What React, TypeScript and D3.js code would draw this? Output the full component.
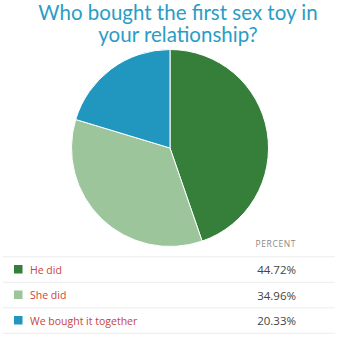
import { useEffect, useRef } from 'react'
import * as d3 from 'd3'

const title = ['Who bought the first sex toy in', 'your relationship?']
const labels = ['He did', 'She did', 'We bought it together']
const values = [44.72, 34.96, 20.33]
const colors = ['#357f3a', '#9cc59b', '#2196bf']

export default function App() {
  const ref = useRef<SVGSVGElement>(null)

  useEffect(() => {
    const width = 340
    const height = 340
    const svg = d3.select(ref.current)
    svg.selectAll('*').remove()
    svg.attr('width', width).attr('height', height)

    // title
    svg.append('g')
      .selectAll('text')
      .data(title)
      .join('text')
      .attr('x', 178)
      .attr('y', (d, i) => 19.5 + i * 22)
      .attr('text-anchor', 'middle')
      .attr('font-family', 'Lato, sans-serif')
      .attr('font-size', 20.5)
      .attr('fill', '#2b9cc4')
      .text(d => d)

    // pie
    const r = 98.5
    const pie = d3.pie<number>().sort(null).value(d => d)
    const arc = d3.arc<d3.PieArcDatum<number>>().innerRadius(0).outerRadius(r)
    svg.append('g')
      .attr('transform', 'translate(170,148)')
      .selectAll('path')
      .data(pie(values))
      .join('path')
      .attr('d', arc)
      .attr('fill', (d, i) => colors[i])
      .attr('stroke', '#fff')
      .attr('stroke-width', 1)

    // table
    const y = d3.scalePoint<number>().domain(d3.range(labels.length)).range([269.5, 320.5])
    const rowH = 25.5

    svg.append('text')
      .attr('x', 296)
      .attr('y', 247)
      .attr('text-anchor', 'end')
      .attr('font-family', 'Open Sans, sans-serif')
      .attr('font-size', 8.5)
      .attr('letter-spacing', 0.6)
      .attr('fill', '#8a8a8a')
      .text('PERCENT')

    const rows = svg.append('g')
      .selectAll('g')
      .data(labels)
      .join('g')
      .attr('transform', (d, i) => `translate(0,${y(i)})`)

    rows.append('line')
      .attr('x1', 3).attr('x2', 335)
      .attr('y1', -rowH / 2).attr('y2', -rowH / 2)
      .attr('stroke', '#ececec')
    rows.filter((d, i) => i === labels.length - 1)
      .append('line')
      .attr('x1', 3).attr('x2', 335)
      .attr('y1', rowH / 2).attr('y2', rowH / 2)
      .attr('stroke', '#ececec')

    rows.append('rect')
      .attr('x', 14).attr('y', -4.5)
      .attr('width', 8.5).attr('height', 8.5)
      .attr('fill', (d, i) => colors[i])

    rows.append('text')
      .attr('x', 30)
      .attr('y', 4)
      .attr('font-family', 'Open Sans, sans-serif')
      .attr('font-size', 10.5)
      .attr('fill', '#c9433b')
      .text(d => d)

    rows.append('text')
      .attr('x', 296)
      .attr('y', 4.5)
      .attr('text-anchor', 'end')
      .attr('font-family', 'Open Sans, sans-serif')
      .attr('font-size', 11.5)
      .attr('font-weight', 500)
      .attr('fill', '#444')
      .text((d, i) => values[i].toFixed(2) + '%')
  }, [])

  return <svg ref={ref} style={{ position: 'absolute', left: 0, top: 0 }} />
}
